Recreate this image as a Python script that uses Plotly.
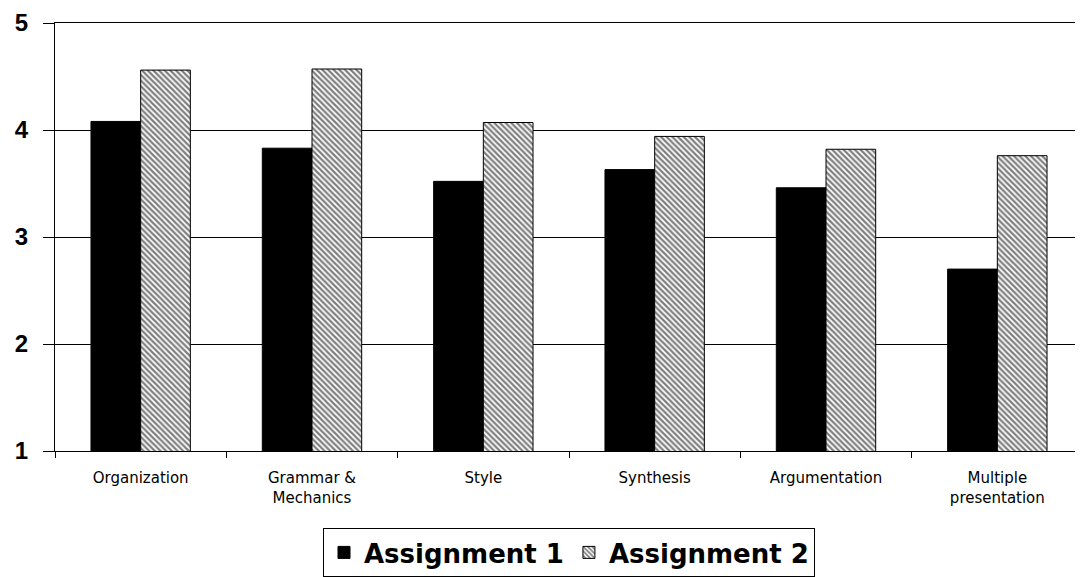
import plotly.graph_objects as go

categories = ["Organization", "Grammar &<br>Mechanics", "Style", "Synthesis",
              "Argumentation", "Multiple<br>presentation"]
assignment1 = [4.08, 3.83, 3.52, 3.63, 3.46, 2.70]
assignment2 = [4.56, 4.57, 4.07, 3.94, 3.82, 3.76]
y_ticks = [1, 2, 3, 4, 5]

fig = go.Figure()
fig.add_trace(go.Bar(
    x=categories, y=assignment1, name="Assignment 1", base=0,
    marker=dict(color="black", line=dict(color="black", width=1)),
))
fig.add_trace(go.Bar(
    x=categories, y=assignment2, name="Assignment 2", base=0,
    marker=dict(color="white", line=dict(color="black", width=1),
                pattern=dict(shape="\\", fgcolor="black", bgcolor="white",
                             size=4, solidity=0.55, fillmode="overlay")),
))

fig.update_layout(
    width=1075, height=569,
    margin=dict(l=47, r=0, t=15, b=122),
    paper_bgcolor="white", plot_bgcolor="white",
    barmode="group", bargap=0.42, bargroupgap=0,
    font=dict(family="Liberation Sans, Arial, sans-serif", color="black"),
    xaxis=dict(
        type="category", tickson="boundaries", ticks="outside", ticklen=6,
        tickcolor="black", showline=True, mirror=True, linecolor="black",
        linewidth=1, showgrid=False, automargin=False,
        tickfont=dict(size=15, family="DejaVu Sans, sans-serif"),
        ticklabelstandoff=13,
        range=[-0.5, 5.5],
    ),
    yaxis=dict(
        range=[1, 5], tickvals=y_ticks, ticks="outside", ticklen=11,
        tickcolor="black", showline=True, linecolor="black", linewidth=1,
        showgrid=True, gridcolor="black", gridwidth=1, zeroline=False,
        automargin=False, ticklabelstandoff=10,
        tickfont=dict(size=24, family="Liberation Sans, Arial, sans-serif",
                      weight="bold"),
    ),
    legend=dict(
        orientation="h", x=0.5, xanchor="center", y=-0.18, yanchor="top",
        bordercolor="black", borderwidth=1, bgcolor="white",
        font=dict(size=26, family="DejaVu Sans, sans-serif", weight="bold"),
        itemwidth=30,
    ),
)

fig.write_html("out.html")
